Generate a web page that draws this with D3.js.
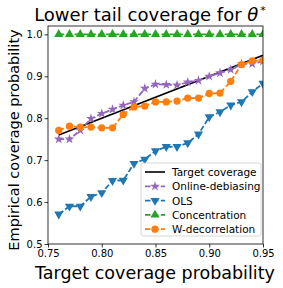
<!DOCTYPE html>
<html>
<head>
<meta charset="utf-8">
<script src="https://cdn.jsdelivr.net/npm/d3@7"></script>
<style>
  html, body { margin: 0; padding: 0; background: #fff; }
  svg { display: block; font-family: "DejaVu Sans", sans-serif; }
</style>
</head>
<body>
<svg id="chart" width="283" height="288"></svg>
<script>
// ─── Lower tail coverage chart ────────────────────────────

const targets = [0.76, 0.77, 0.78, 0.79, 0.80, 0.81, 0.82, 0.83, 0.84, 0.85,
                 0.86, 0.87, 0.88, 0.89, 0.90, 0.91, 0.92, 0.93, 0.94, 0.95];

const onlineDebiasing = [0.750, 0.750, 0.771, 0.799, 0.811, 0.821, 0.831, 0.839, 0.871, 0.881,
                         0.880, 0.879, 0.886, 0.890, 0.900, 0.908, 0.916, 0.929, 0.930, 0.936];
const ols = [0.571, 0.590, 0.590, 0.613, 0.622, 0.651, 0.652, 0.692, 0.702, 0.722,
             0.732, 0.732, 0.741, 0.762, 0.803, 0.815, 0.831, 0.839, 0.863, 0.883];
const concentration = [1.0, 1.0, 1.0, 1.0, 1.0, 1.0, 1.0, 1.0, 1.0, 1.0,
                       1.0, 1.0, 1.0, 1.0, 1.0, 1.0, 1.0, 1.0, 1.0, 1.0];
const wDecorrelation = [0.771, 0.781, 0.779, 0.779, 0.777, 0.777, 0.809, 0.827, 0.829, 0.839,
                        0.839, 0.841, 0.848, 0.848, 0.859, 0.860, 0.888, 0.928, 0.937, 0.938];

const xTicks = [0.75, 0.80, 0.85, 0.90, 0.95];
const yTicks = [0.5, 0.6, 0.7, 0.8, 0.9, 1.0];

const series = [
  { name: "Online-debiasing", values: onlineDebiasing, color: "#9467bd", marker: "star" },
  { name: "OLS",              values: ols,             color: "#1f77b4", marker: "tridown" },
  { name: "Concentration",    values: concentration,   color: "#2ca02c", marker: "triup" },
  { name: "W-decorrelation",  values: wDecorrelation,  color: "#ff7f0e", marker: "circle" },
];

const svg = d3.select("#chart");
const m = { left: 48, right: 263, top: 26, bottom: 244 };

const x = d3.scaleLinear().domain([0.75, 0.95]).range([m.left, m.right]);
const y = d3.scaleLinear().domain([0.5, 1.02]).range([m.bottom, m.top]);

const symbols = {
  star:    d3.symbol().type(d3.symbolStar).size(30),
  tridown: d3.symbol().type(d3.symbolTriangle).size(36),
  triup:   d3.symbol().type(d3.symbolTriangle).size(36),
  circle:  d3.symbol().type(d3.symbolCircle).size(42),
};
const rot = { star: 0, tridown: 180, triup: 0, circle: 0 };

const g = svg.append("g");
g.append("clipPath").attr("id", "clip")
  .append("rect").attr("x", m.left).attr("y", m.top)
  .attr("width", m.right - m.left).attr("height", m.bottom - m.top);

const plot = g.append("g").attr("clip-path", "url(#clip)");

// Target line
plot.append("line")
  .attr("x1", x(targets[0])).attr("y1", y(targets[0]))
  .attr("x2", x(targets[targets.length - 1])).attr("y2", y(targets[targets.length - 1]))
  .attr("stroke", "#000").attr("stroke-width", 1.6);

const line = d3.line().x((d, i) => x(targets[i])).y(d => y(d));

series.forEach(s => {
  plot.append("path")
    .attr("d", line(s.values))
    .attr("fill", "none")
    .attr("stroke", s.color)
    .attr("stroke-width", 1.8)
    .attr("stroke-dasharray", "5.5,2.4");
  plot.selectAll(null)
    .data(s.values)
    .join("path")
    .attr("d", symbols[s.marker])
    .attr("transform", (d, i) => `translate(${x(targets[i])},${y(d)}) rotate(${rot[s.marker]})`)
    .attr("fill", s.color);
});

// Axes
const xAxis = d3.axisBottom(x).tickValues(xTicks).tickFormat(d3.format(".2f")).tickSize(3.5).tickPadding(2);
const yAxis = d3.axisLeft(y).tickValues(yTicks).tickFormat(d3.format(".1f")).tickSize(3.5).tickPadding(2);

const gx = g.append("g").attr("transform", `translate(0,${m.bottom})`).call(xAxis);
const gy = g.append("g").attr("transform", `translate(${m.left},0)`).call(yAxis);
[gx, gy].forEach(a => {
  a.select(".domain").remove();
  a.selectAll("text").attr("font-size", 10).attr("font-family", "DejaVu Sans").attr("fill", "#000");
  a.selectAll("line").attr("stroke", "#000").attr("stroke-width", 0.8);
});

// Frame
g.append("rect")
  .attr("x", m.left).attr("y", m.top)
  .attr("width", m.right - m.left).attr("height", m.bottom - m.top)
  .attr("fill", "none").attr("stroke", "#000").attr("stroke-width", 0.8);

// Titles
g.append("text")
  .attr("x", 150).attr("y", 20.5)
  .attr("text-anchor", "middle").attr("font-size", 18)
  .html('Lower tail coverage for <tspan font-style="italic">θ</tspan><tspan dx="2" dy="-7" font-size="11">*</tspan>');

g.append("text")
  .attr("x", 155).attr("y", 278.5)
  .attr("text-anchor", "middle").attr("font-size", 17.5)
  .text("Target coverage probability");

g.append("text")
  .attr("transform", `translate(19,140) rotate(-90)`)
  .attr("text-anchor", "middle").attr("font-size", 14.5)
  .text("Empirical coverage probability");

// Legend
const legend = g.append("g");
legend.append("rect")
  .attr("x", 141).attr("y", 163).attr("width", 120).attr("height", 73).attr("rx", 2)
  .attr("fill", "#fff").attr("fill-opacity", 0.8)
  .attr("stroke", "#ccc").attr("stroke-width", 0.8);

const legendItems = [{ name: "Target coverage", color: "#000", marker: null }].concat(series);
legendItems.forEach((s, i) => {
  const ly = 172 + i * 14.3;
  legend.append("line")
    .attr("x1", 145).attr("x2", 165).attr("y1", ly).attr("y2", ly)
    .attr("stroke", s.color).attr("stroke-width", s.marker ? 1.8 : 1.6)
    .attr("stroke-dasharray", s.marker ? "5.5,2.4" : null);
  if (s.marker) {
    legend.append("path")
      .attr("d", symbols[s.marker])
      .attr("transform", `translate(155,${ly}) rotate(${rot[s.marker]})`)
      .attr("fill", s.color);
  }
  legend.append("text")
    .attr("x", 172).attr("y", ly + 4)
    .attr("font-size", 10.5)
    .text(s.name);
});
</script>
</body>
</html>
